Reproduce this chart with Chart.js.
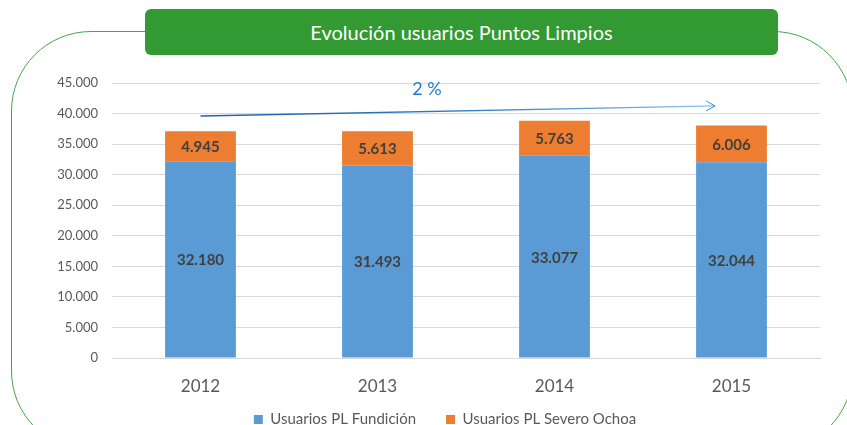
<!DOCTYPE html>
<html>
<head>
<meta charset="utf-8">
<script src="https://cdn.jsdelivr.net/npm/chart.js@4.4.1/dist/chart.umd.min.js"></script>
<style>
  html, body { margin: 0; padding: 0; background: #fff; }
  #wrap { position: relative; width: 847px; height: 425px; overflow: hidden; }
  #frame {
    position: absolute; left: 11px; top: 31px; width: 842px; height: 420px;
    border: 1px solid #4aa54a; border-radius: 80px; box-sizing: border-box;
  }
  #title {
    position: absolute; left: 145px; top: 9px; width: 633px; height: 46px;
    background: #339933; border-radius: 6px; color: #fff;
    font: 20px Lato, sans-serif; line-height: 46px; text-align: center;
  }
  #chart { position: absolute; left: 0; top: 0; }
</style>
</head>
<body>
<div id="wrap">
  <div id="frame"></div>
  <div id="title">Evolución usuarios Puntos Limpios</div>
  <canvas id="chart" width="847" height="425"></canvas>
</div>
<script>
// Datos
const years = ['2012', '2013', '2014', '2015'];
const fundicion = [32180, 31493, 33077, 32044];
const severoOchoa = [4945, 5613, 5763, 6006];
const growthLabel = '2 %';

Chart.defaults.font.family = 'Lato, "Open Sans", sans-serif';
Chart.defaults.color = '#595959';

const fmt = v => v.toLocaleString('de-DE');

// Etiquetas centradas en cada barra
const barLabels = {
    id: 'barLabels',
    afterDatasetsDraw(chart) {
        const ctx = chart.ctx;
        ctx.save();
        ctx.font = 'bold 15px Lato, sans-serif';
        ctx.fillStyle = '#404040';
        ctx.textAlign = 'center';
        ctx.textBaseline = 'middle';
        chart.data.datasets.forEach((ds, i) => {
            chart.getDatasetMeta(i).data.forEach((bar, j) => {
                const mid = (bar.y + bar.base) / 2;
                ctx.fillText(fmt(ds.data[j]), bar.x, mid + 1);
            });
        });
        ctx.restore();
    }
};

// Flecha de tendencia
const trendArrow = {
    id: 'trendArrow',
    afterDatasetsDraw(chart) {
        const { ctx, scales: { x, y } } = chart;
        const x0 = x.getPixelForValue(0), y0 = y.getPixelForValue(39600);
        const x1 = x.getPixelForValue(2.907), y1 = y.getPixelForValue(41250);
        ctx.save();
        const g = ctx.createLinearGradient(x0, 0, x1, 0);
        g.addColorStop(0, '#1f5fa8');
        g.addColorStop(0.5, '#2a7cc7');
        g.addColorStop(1, '#8fc1ea');
        ctx.strokeStyle = g;
        ctx.lineWidth = 1.3;
        ctx.beginPath();
        ctx.moveTo(x0, y0);
        ctx.lineTo(x1, y1);
        ctx.stroke();
        ctx.strokeStyle = '#3b8fd6';
        ctx.lineWidth = 1;
        ctx.beginPath();
        ctx.moveTo(x1 - 9, y1 - 5);
        ctx.lineTo(x1, y1);
        ctx.lineTo(x1 - 9, y1 + 5);
        ctx.stroke();
        ctx.font = '18px Lato, sans-serif';
        ctx.fillStyle = '#1f7bc9';
        ctx.textAlign = 'center';
        ctx.textBaseline = 'middle';
        ctx.fillText(growthLabel, x.getPixelForValue(1.28), y.getPixelForValue(44000));
        ctx.restore();
    }
};

// Leyenda: altura fija y desplazada
const legendPlacement = {
    id: 'legendPlacement',
    afterInit(chart) {
        const legend = chart.legend;
        const fit = legend.fit;
        legend.fit = function () {
            fit.call(this);
            this.height = 22;
        };
    },
    afterLayout(chart) {
        const legend = chart.legend;
        legend.top = 382;
        legend.bottom = 425;
        legend.left += 35;
        legend.right += 35;
    }
};

new Chart(document.getElementById('chart'), {
    type: 'bar',
    data: {
        labels: years,
        datasets: [{
            label: 'Usuarios PL Fundición',
            data: fundicion,
            backgroundColor: '#5b9bd5',
            barPercentage: 0.4,
            categoryPercentage: 1
        }, {
            label: 'Usuarios PL Severo Ochoa',
            data: severoOchoa,
            backgroundColor: '#ed7d31',
            barPercentage: 0.4,
            categoryPercentage: 1
        }]
    },
    options: {
        responsive: false,
        animation: false,
        layout: { padding: { left: 0, right: 27, top: 83, bottom: 0 } },
        plugins: {
            legend: {
                position: 'bottom',
                labels: {
                    boxWidth: 9, boxHeight: 9, padding: 30,
                    font: { size: 15 }, color: '#595959'
                }
            },
            tooltip: { enabled: false }
        },
        scales: {
            x: {
                stacked: true,
                afterFit: s => { s.height = 45; },
                grid: { display: false },
                border: { color: '#d9d9d9' },
                ticks: { font: { size: 17 }, color: '#595959', padding: 10 }
            },
            y: {
                stacked: true,
                min: 0, max: 45000,
                afterFit: s => { s.width = 112; },
                grid: { color: '#d9d9d9', drawTicks: false },
                border: { display: false },
                ticks: {
                    stepSize: 5000, padding: 14,
                    font: { size: 13 }, color: '#595959',
                    callback: v => fmt(v)
                }
            }
        }
    },
    plugins: [barLabels, trendArrow, legendPlacement]
});
</script>
</body>
</html>
